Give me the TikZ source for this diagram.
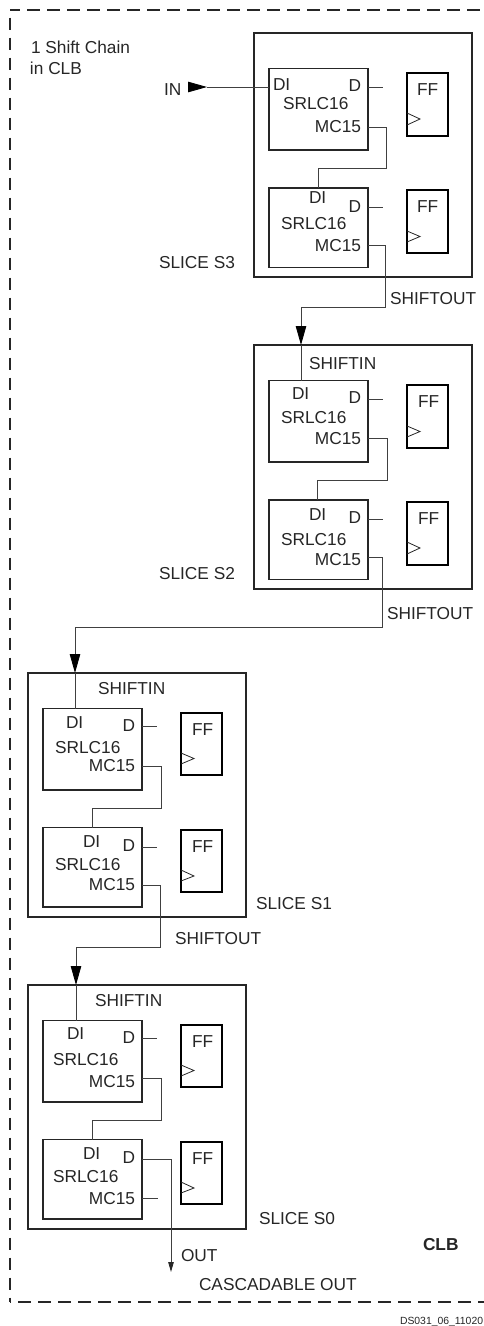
\documentclass[tikz,border=0pt]{standalone}
\usepackage{fontspec}
\setmainfont{Liberation Sans}
\usepackage{tikz}
\usetikzlibrary{arrows.meta}

\begin{document}
\begin{tikzpicture}[x=1pt,y=-1pt,
  lab/.style={inner sep=0,outer sep=0,anchor=base west,text=black!85,font=\fontsize{17.3}{20}\selectfont},
  labr/.style={lab,anchor=base east},
  slicebox/.style={draw=black!85,line width=1.9pt,inner sep=0,outer sep=0,anchor=north west,minimum width=218pt,minimum height=244pt},
  srlhi/.style={draw=black!85,line width=1.8pt,inner sep=0,outer sep=0,anchor=north west,minimum width=99pt,minimum height=81.5pt},
  srllo/.style={srlhi,minimum height=79.5pt},
  ffbox/.style={draw=black,line width=2pt,inner sep=0,outer sep=0,anchor=north west,minimum width=40.5pt,minimum height=62.5pt},
  wire/.style={draw=black!75,line width=0.85pt},
  clk/.style={draw=black!85,line width=0.8pt},
  frame/.style={draw=black!85,line width=1.8pt,dash pattern=on 12.5pt off 7.5pt},
  bigtip/.style={-{Triangle[length=19pt,width=10.5pt,black]}},
  smalltip/.style={-{Triangle[length=10pt,width=5.5pt,black!85]}}]
\useasboundingbox (0,0) rectangle (484,1326);

\coordinate (fnw) at (10,10);
\coordinate (fne) at (490,10);
\coordinate (fsw) at (10,1302);
\coordinate (fse) at (490,1302);
\draw[frame,dash phase=3pt] (fnw) -- (fne);
\draw[frame,dash phase=12.5pt] (fnw) -- (fsw);
\draw[frame,dash phase=12pt] (fsw) -- (fse);

\node[lab] (chaina) at (31,53) {1 Shift Chain};
\node[lab] (chainb) at (30,74) {in CLB};
\node[lab] (in) at (164,95) {IN};
\coordinate (inbase) at (188,87);
\coordinate (intip) at (207,87);

\begin{scope}[xshift=254pt,yshift=-33pt,name prefix=s3-]
\node[slicebox] (slice) at (0,0) {};
\node[srlhi] (srla) at (15,35.5) {};
\node[srllo] (srlb) at (15,155) {};
\node[ffbox] (ffa) at (153,40) {};
\node[ffbox] (ffb) at (153,157) {};
\draw[clk] (153,80) -- (166,86) -- (153,92);
\draw[clk] (153,198) -- (166,203.5) -- (153,209);
\node[lab] (dia) at (19,57) {DI};
\node[labr] (da) at (107,58) {D};
\node[lab] (namea) at (29,76) {SRLC16};
\node[labr] (mca) at (107,99) {MC15};
\node[lab] (fa) at (163,62) {FF};
\node[lab] (dib) at (55,170) {DI};
\node[labr] (db) at (107,179) {D};
\node[lab] (nameb) at (27,196) {SRLC16};
\node[labr] (mcb) at (107,218) {MC15};
\node[lab] (fb) at (163,179) {FF};
\coordinate (ain) at (15,54);
\coordinate (daout) at (114,54);
\coordinate (daend) at (129,54);
\coordinate (dbout) at (114,174);
\coordinate (dbend) at (129,174);
\coordinate (mcaout) at (114,94);
\coordinate (via) at (132,135);
\coordinate (bin) at (64,155);
\coordinate (mcbout) at (114,212);
\draw[wire] (daout) -- (daend);
\draw[wire] (dbout) -- (dbend);
\draw[wire] (mcaout) -| (via) -| (bin);
\end{scope}
\node[lab] (slicelabd) at (159,268) {SLICE S3};
\node[lab] (shiftoutd) at (390,304) {SHIFTOUT};
\coordinate (viad) at (385,307);

\begin{scope}[xshift=254pt,yshift=-345pt,name prefix=s2-]
\node[slicebox] (slice) at (0,0) {};
\node[srlhi] (srla) at (15,35.5) {};
\node[srllo] (srlb) at (15,155) {};
\node[ffbox] (ffa) at (153,40) {};
\node[ffbox] (ffb) at (153,157) {};
\draw[clk] (153,81) -- (166,86.5) -- (153,92);
\draw[clk] (153,197) -- (166,203) -- (153,209);
\node[lab] (shiftin) at (55,24) {SHIFTIN};
\node[lab] (dia) at (38,54) {DI};
\node[labr] (da) at (107,58) {D};
\node[lab] (namea) at (27,78) {SRLC16};
\node[labr] (mca) at (107,99) {MC15};
\node[lab] (fa) at (164,62) {FF};
\node[lab] (dib) at (55,175) {DI};
\node[labr] (db) at (107,178) {D};
\node[lab] (nameb) at (27,200) {SRLC16};
\node[labr] (mcb) at (107,220) {MC15};
\node[lab] (fb) at (164,179) {FF};
\coordinate (top) at (47,0);
\coordinate (ain) at (47,35.5);
\coordinate (daout) at (114,54);
\coordinate (daend) at (129,54);
\coordinate (dbout) at (114,174);
\coordinate (dbend) at (129,174);
\coordinate (mcaout) at (114,93);
\coordinate (via) at (133,135);
\coordinate (bin) at (63,155);
\coordinate (mcbout) at (114,212);
\draw[wire] (top) -- (ain);
\draw[wire] (daout) -- (daend);
\draw[wire] (dbout) -- (dbend);
\draw[wire] (mcaout) -| (via) -| (bin);
\end{scope}
\node[lab] (slicelabc) at (159,579) {SLICE S2};
\node[lab] (shiftoutc) at (387,619) {SHIFTOUT};
\coordinate (viac) at (382,627);

\begin{scope}[xshift=28pt,yshift=-673pt,name prefix=s1-]
\node[slicebox] (slice) at (0,0) {};
\node[srlhi] (srla) at (15,35.5) {};
\node[srllo] (srlb) at (15,154.5) {};
\node[ffbox] (ffa) at (153,39.5) {};
\node[ffbox] (ffb) at (153,156.5) {};
\draw[clk] (153,80) -- (166,85.5) -- (153,91);
\draw[clk] (153,197) -- (166,203) -- (153,208);
\node[lab] (shiftin) at (70,21) {SHIFTIN};
\node[lab] (dia) at (38,55) {DI};
\node[labr] (da) at (107,58) {D};
\node[lab] (namea) at (27,80) {SRLC16};
\node[labr] (mca) at (107,98) {MC15};
\node[lab] (fa) at (164,62) {FF};
\node[lab] (dib) at (55,174) {DI};
\node[labr] (db) at (107,178) {D};
\node[lab] (nameb) at (27,197) {SRLC16};
\node[labr] (mcb) at (107,217) {MC15};
\node[lab] (fb) at (164,179) {FF};
\coordinate (top) at (47,0);
\coordinate (ain) at (47,35.5);
\coordinate (daout) at (114,53);
\coordinate (daend) at (129,53);
\coordinate (dbout) at (114,174);
\coordinate (dbend) at (129,174);
\coordinate (mcaout) at (114,93);
\coordinate (via) at (133,135);
\coordinate (bin) at (64,154.5);
\coordinate (mcbout) at (114,212);
\draw[wire] (top) -- (ain);
\draw[wire] (daout) -- (daend);
\draw[wire] (dbout) -- (dbend);
\draw[wire] (mcaout) -| (via) -| (bin);
\end{scope}
\node[lab] (slicelabb) at (256,909) {SLICE S1};
\node[lab] (shiftoutb) at (175,944) {SHIFTOUT};
\coordinate (viab) at (160.5,947);

\begin{scope}[xshift=28pt,yshift=-985pt,name prefix=s0-]
\node[slicebox] (slice) at (0,0) {};
\node[srlhi] (srla) at (15,35.5) {};
\node[srllo] (srlb) at (15,154.5) {};
\node[ffbox] (ffa) at (153,39.5) {};
\node[ffbox] (ffb) at (153,156.5) {};
\draw[clk] (153,80) -- (166,85.5) -- (153,91);
\draw[clk] (153,197) -- (166,203) -- (153,208);
\node[lab] (shiftin) at (67,21) {SHIFTIN};
\node[lab] (dia) at (39,54) {DI};
\node[labr] (da) at (107,58) {D};
\node[lab] (namea) at (25,80) {SRLC16};
\node[labr] (mca) at (107,102) {MC15};
\node[lab] (fa) at (164,62) {FF};
\node[lab] (dib) at (55,174) {DI};
\node[labr] (db) at (107,178) {D};
\node[lab] (nameb) at (25,197) {SRLC16};
\node[labr] (mcb) at (107,219) {MC15};
\node[lab] (fb) at (164,179) {FF};
\coordinate (top) at (48,0);
\coordinate (ain) at (48,35.5);
\coordinate (daout) at (114,53);
\coordinate (daend) at (129,53);
\coordinate (dbout) at (114,174);
\coordinate (mcaout) at (114,93);
\coordinate (via) at (133,135);
\coordinate (bin) at (64,154.5);
\coordinate (mcbout) at (114,213);
\coordinate (mcbend) at (130,213);
\draw[wire] (top) -- (ain);
\draw[wire] (daout) -- (daend);
\draw[wire] (mcbout) -- (mcbend);
\draw[wire] (mcaout) -| (via) -| (bin);
\end{scope}
\node[lab] (slicelaba) at (259,1224) {SLICE S0};
\node[lab] (out) at (181,1261) {OUT};
\node[lab] (cascade) at (199,1290) {CASCADABLE OUT};
\node[lab,font=\fontsize{17.3}{20}\selectfont\bfseries] (clb) at (423,1250) {CLB};
\node[lab,font=\fontsize{10.4}{12}\selectfont] (docid) at (400,1324.5) {DS031\_06\_11020};
\coordinate (outend) at (171,1272);

% chain between the slices
\draw[wire,bigtip] (inbase) -- (intip);
\draw[wire] (intip) -- (s3-ain);
\draw[wire,bigtip] (s3-mcbout) -| (viad) -| (s2-top);
\draw[wire,bigtip] (s2-mcbout) -| (viac) -| (s1-top);
\draw[wire,bigtip] (s1-mcbout) -| (viab) -| (s0-top);
\draw[wire,smalltip] (s0-dbout) -| (outend);

\end{tikzpicture}
\end{document}
